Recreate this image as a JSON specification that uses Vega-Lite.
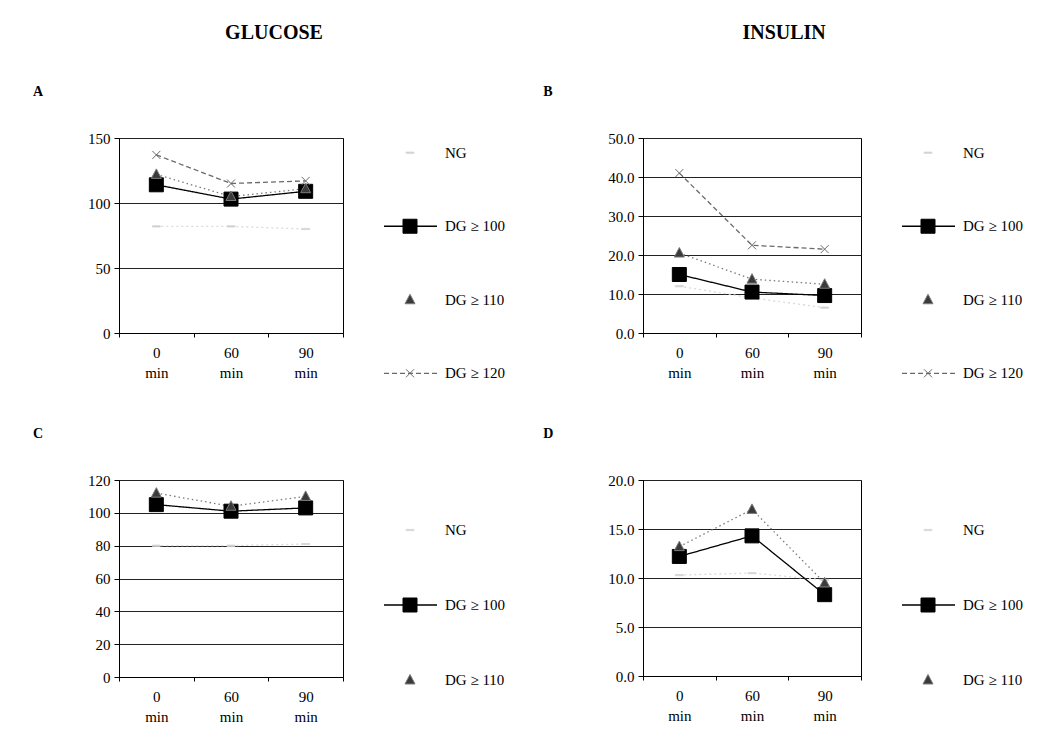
{
  "$schema": "https://vega.github.io/schema/vega-lite/v6.json",
  "background": "white",
  "padding": {"left": 33, "top": 22, "right": 5, "bottom": 5},
  "config": {
    "font": "Liberation Serif",
    "view": {"stroke": "black", "strokeWidth": 1},
    "axis": {"labelFont": "Liberation Serif", "labelFontSize": 15, "labelColor": "black", "domainColor": "black", "tickColor": "black", "gridColor": "#222222", "gridWidth": 1},
    "title": {"font": "Liberation Serif", "fontWeight": "bold", "color": "black"},
    "text": {"font": "Liberation Serif", "fontSize": 15, "color": "black"}
  },
  "spacing": 34,
  "hconcat": [
    {
      "title": {"text": "GLUCOSE", "fontSize": 20, "anchor": "middle", "offset": 42, "dx": 3},
      "spacing": 38,
      "vconcat": [
        {
          "title": {"text": "A", "fontSize": 14, "anchor": "start", "dx": -54, "offset": 32},
          "spacing": 35,
          "hconcat": [
            {
              "width": 224, "height": 195,
              "data": {"values": [
                {"time": "0", "series": "NG", "value": 82}, {"time": "60", "series": "NG", "value": 82}, {"time": "90", "series": "NG", "value": 80},
                {"time": "0", "series": "DG ≥ 100", "value": 114}, {"time": "60", "series": "DG ≥ 100", "value": 103}, {"time": "90", "series": "DG ≥ 100", "value": 109},
                {"time": "0", "series": "DG ≥ 110", "value": 122}, {"time": "60", "series": "DG ≥ 110", "value": 105}, {"time": "90", "series": "DG ≥ 110", "value": 111},
                {"time": "0", "series": "DG ≥ 120", "value": 137}, {"time": "60", "series": "DG ≥ 120", "value": 115}, {"time": "90", "series": "DG ≥ 120", "value": 117}
              ]},
              "encoding": {
                "x": {"field": "time", "type": "ordinal", "sort": ["0", "60", "90"], "bandPosition": 0.5,
                  "scale": {"type": "band", "paddingInner": 0, "paddingOuter": 0},
                  "axis": {"title": null, "labelAngle": 0, "tickBand": "extent", "labelExpr": "datum.label ? [datum.label, 'min'] : ''", "labelLineHeight": 20, "labelPadding": 8, "tickSize": 4, "labelBaseline": "top", "grid": false}},
                "y": {"field": "value", "type": "quantitative",
                  "scale": {"domain": [0, 150], "nice": false},
                  "axis": {"title": null, "values": [0, 50, 100, 150], "format": "d", "grid": true, "tickSize": 5, "labelPadding": 4}}
              },
              "layer": [
                {"mark": {"type": "line", "strokeWidth": 1.3},
                  "encoding": {
                    "stroke": {"field": "series", "type": "nominal", "legend": null, "scale": {"domain": ["NG", "DG ≥ 100", "DG ≥ 110", "DG ≥ 120"], "range": ["#dadada", "#000000", "#7a7a7a", "#6a6a6a"]}},
                    "strokeDash": {"field": "series", "type": "nominal", "legend": null, "scale": {"domain": ["NG", "DG ≥ 100", "DG ≥ 110", "DG ≥ 120"], "range": [[2, 3], [1, 0], [1.5, 3], [5, 3]]}}
                  }},
                {"mark": {"type": "point", "opacity": 1, "size": 100, "strokeWidth": 1},
                  "encoding": {
                    "shape": {"field": "series", "type": "nominal", "legend": null, "scale": {"domain": ["NG", "DG ≥ 100", "DG ≥ 110", "DG ≥ 120"], "range": ["M-0.8,-0.12H0.8V0.12H-0.8Z", "M-1.4,-1.4H1.4V1.4H-1.4Z", "M0,-1.1L1,0.8H-1Z", "M-0.8,-0.8L0.8,0.8M-0.8,0.8L0.8,-0.8"]}},
                    "fill": {"field": "series", "type": "nominal", "legend": null, "scale": {"domain": ["NG", "DG ≥ 100", "DG ≥ 110", "DG ≥ 120"], "range": ["#bdbdbd", "#000000", "#3a3a3a", "transparent"]}},
                    "stroke": {"field": "series", "type": "nominal", "legend": null, "scale": {"domain": ["NG", "DG ≥ 100", "DG ≥ 110", "DG ≥ 120"], "range": ["#dadada", "#000000", "#7a7a7a", "#6a6a6a"]}}
                  }}
              ]
            },
            {
              "width": 130, "height": 250,
              "view": {"stroke": null},
              "data": {"values": [{"series": "NG"}, {"series": "DG ≥ 100"}, {"series": "DG ≥ 110"}, {"series": "DG ≥ 120"}]},
              "encoding": {
                "y": {"field": "series", "type": "ordinal", "sort": ["NG", "DG ≥ 100", "DG ≥ 110", "DG ≥ 120"], "scale": {"type": "point", "padding": 0.2}, "axis": null}
              },
              "layer": [
                {"transform": [{"filter": "datum.series == 'DG ≥ 100' || datum.series == 'DG ≥ 120'"}],
                  "mark": {"type": "rule", "strokeWidth": 1.3},
                  "encoding": {
                    "x": {"datum": 0.5, "type": "quantitative", "scale": {"domain": [0, 13]}, "axis": null},
                    "x2": {"datum": 5.8},
                    "stroke": {"field": "series", "type": "nominal", "legend": null, "scale": {"domain": ["NG", "DG ≥ 100", "DG ≥ 110", "DG ≥ 120"], "range": ["#dadada", "#000000", "#7a7a7a", "#6a6a6a"]}},
                    "strokeDash": {"field": "series", "type": "nominal", "legend": null, "scale": {"domain": ["NG", "DG ≥ 100", "DG ≥ 110", "DG ≥ 120"], "range": [[2, 3], [1, 0], [1.5, 3], [5, 3]]}}
                  }},
                {"mark": {"type": "point", "opacity": 1, "size": 100, "strokeWidth": 1},
                  "encoding": {
                    "x": {"datum": 3.1, "type": "quantitative"},
                    "shape": {"field": "series", "type": "nominal", "legend": null, "scale": {"domain": ["NG", "DG ≥ 100", "DG ≥ 110", "DG ≥ 120"], "range": ["M-0.8,-0.12H0.8V0.12H-0.8Z", "M-1.4,-1.4H1.4V1.4H-1.4Z", "M0,-1.1L1,0.8H-1Z", "M-0.8,-0.8L0.8,0.8M-0.8,0.8L0.8,-0.8"]}},
                    "fill": {"field": "series", "type": "nominal", "legend": null, "scale": {"domain": ["NG", "DG ≥ 100", "DG ≥ 110", "DG ≥ 120"], "range": ["#bdbdbd", "#000000", "#3a3a3a", "transparent"]}},
                    "stroke": {"field": "series", "type": "nominal", "legend": null, "scale": {"domain": ["NG", "DG ≥ 100", "DG ≥ 110", "DG ≥ 120"], "range": ["#dadada", "#000000", "#7a7a7a", "#6a6a6a"]}}
                  }},
                {"mark": {"type": "text", "align": "left", "baseline": "middle"},
                  "encoding": {
                    "x": {"datum": 6.6, "type": "quantitative"},
                    "text": {"field": "series", "type": "nominal"}
                  }}
              ]
            }
          ]
        },
        {
          "title": {"text": "C", "fontSize": 14, "anchor": "start", "dx": -54, "offset": 32},
          "spacing": 35,
          "hconcat": [
            {
              "width": 224, "height": 197,
              "data": {"values": [
                {"time": "0", "series": "NG", "value": 80}, {"time": "60", "series": "NG", "value": 80}, {"time": "90", "series": "NG", "value": 81},
                {"time": "0", "series": "DG ≥ 100", "value": 105}, {"time": "60", "series": "DG ≥ 100", "value": 101}, {"time": "90", "series": "DG ≥ 100", "value": 103},
                {"time": "0", "series": "DG ≥ 110", "value": 112}, {"time": "60", "series": "DG ≥ 110", "value": 104}, {"time": "90", "series": "DG ≥ 110", "value": 110}
              ]},
              "encoding": {
                "x": {"field": "time", "type": "ordinal", "sort": ["0", "60", "90"], "bandPosition": 0.5,
                  "scale": {"type": "band", "paddingInner": 0, "paddingOuter": 0},
                  "axis": {"title": null, "labelAngle": 0, "tickBand": "extent", "labelExpr": "datum.label ? [datum.label, 'min'] : ''", "labelLineHeight": 20, "labelPadding": 8, "tickSize": 4, "labelBaseline": "top", "grid": false}},
                "y": {"field": "value", "type": "quantitative",
                  "scale": {"domain": [0, 120], "nice": false},
                  "axis": {"title": null, "values": [0, 20, 40, 60, 80, 100, 120], "format": "d", "grid": true, "tickSize": 5, "labelPadding": 4}}
              },
              "layer": [
                {"mark": {"type": "line", "strokeWidth": 1.3},
                  "encoding": {
                    "stroke": {"field": "series", "type": "nominal", "legend": null, "scale": {"domain": ["NG", "DG ≥ 100", "DG ≥ 110", "DG ≥ 120"], "range": ["#dadada", "#000000", "#7a7a7a", "#6a6a6a"]}},
                    "strokeDash": {"field": "series", "type": "nominal", "legend": null, "scale": {"domain": ["NG", "DG ≥ 100", "DG ≥ 110", "DG ≥ 120"], "range": [[2, 3], [1, 0], [1.5, 3], [5, 3]]}}
                  }},
                {"mark": {"type": "point", "opacity": 1, "size": 100, "strokeWidth": 1},
                  "encoding": {
                    "shape": {"field": "series", "type": "nominal", "legend": null, "scale": {"domain": ["NG", "DG ≥ 100", "DG ≥ 110", "DG ≥ 120"], "range": ["M-0.8,-0.12H0.8V0.12H-0.8Z", "M-1.4,-1.4H1.4V1.4H-1.4Z", "M0,-1.1L1,0.8H-1Z", "M-0.8,-0.8L0.8,0.8M-0.8,0.8L0.8,-0.8"]}},
                    "fill": {"field": "series", "type": "nominal", "legend": null, "scale": {"domain": ["NG", "DG ≥ 100", "DG ≥ 110", "DG ≥ 120"], "range": ["#bdbdbd", "#000000", "#3a3a3a", "transparent"]}},
                    "stroke": {"field": "series", "type": "nominal", "legend": null, "scale": {"domain": ["NG", "DG ≥ 100", "DG ≥ 110", "DG ≥ 120"], "range": ["#dadada", "#000000", "#7a7a7a", "#6a6a6a"]}}
                  }}
              ]
            },
            {
              "width": 130, "height": 250,
              "view": {"stroke": null},
              "data": {"values": [{"series": "NG"}, {"series": "DG ≥ 100"}, {"series": "DG ≥ 110"}]},
              "encoding": {
                "y": {"field": "series", "type": "ordinal", "sort": ["NG", "DG ≥ 100", "DG ≥ 110"], "scale": {"type": "point", "padding": 0.667}, "axis": null}
              },
              "layer": [
                {"transform": [{"filter": "datum.series == 'DG ≥ 100'"}],
                  "mark": {"type": "rule", "strokeWidth": 1.3},
                  "encoding": {
                    "x": {"datum": 0.5, "type": "quantitative", "scale": {"domain": [0, 13]}, "axis": null},
                    "x2": {"datum": 5.8},
                    "stroke": {"field": "series", "type": "nominal", "legend": null, "scale": {"domain": ["NG", "DG ≥ 100", "DG ≥ 110", "DG ≥ 120"], "range": ["#dadada", "#000000", "#7a7a7a", "#6a6a6a"]}},
                    "strokeDash": {"field": "series", "type": "nominal", "legend": null, "scale": {"domain": ["NG", "DG ≥ 100", "DG ≥ 110", "DG ≥ 120"], "range": [[2, 3], [1, 0], [1.5, 3], [5, 3]]}}
                  }},
                {"mark": {"type": "point", "opacity": 1, "size": 100, "strokeWidth": 1},
                  "encoding": {
                    "x": {"datum": 3.1, "type": "quantitative"},
                    "shape": {"field": "series", "type": "nominal", "legend": null, "scale": {"domain": ["NG", "DG ≥ 100", "DG ≥ 110", "DG ≥ 120"], "range": ["M-0.8,-0.12H0.8V0.12H-0.8Z", "M-1.4,-1.4H1.4V1.4H-1.4Z", "M0,-1.1L1,0.8H-1Z", "M-0.8,-0.8L0.8,0.8M-0.8,0.8L0.8,-0.8"]}},
                    "fill": {"field": "series", "type": "nominal", "legend": null, "scale": {"domain": ["NG", "DG ≥ 100", "DG ≥ 110", "DG ≥ 120"], "range": ["#bdbdbd", "#000000", "#3a3a3a", "transparent"]}},
                    "stroke": {"field": "series", "type": "nominal", "legend": null, "scale": {"domain": ["NG", "DG ≥ 100", "DG ≥ 110", "DG ≥ 120"], "range": ["#dadada", "#000000", "#7a7a7a", "#6a6a6a"]}}
                  }},
                {"mark": {"type": "text", "align": "left", "baseline": "middle"},
                  "encoding": {
                    "x": {"datum": 6.6, "type": "quantitative"},
                    "text": {"field": "series", "type": "nominal"}
                  }}
              ]
            }
          ]
        }
      ]
    },
    {
      "title": {"text": "INSULIN", "fontSize": 20, "anchor": "middle", "offset": 42, "dx": -1},
      "spacing": 38,
      "vconcat": [
        {
          "title": {"text": "B", "fontSize": 14, "anchor": "start", "dx": -64, "offset": 32},
          "spacing": 35,
          "hconcat": [
            {
              "width": 218, "height": 195,
              "data": {"values": [
                {"time": "0", "series": "NG", "value": 12}, {"time": "60", "series": "NG", "value": 9}, {"time": "90", "series": "NG", "value": 6.5},
                {"time": "0", "series": "DG ≥ 100", "value": 15}, {"time": "60", "series": "DG ≥ 100", "value": 10.5}, {"time": "90", "series": "DG ≥ 100", "value": 9.6},
                {"time": "0", "series": "DG ≥ 110", "value": 20.5}, {"time": "60", "series": "DG ≥ 110", "value": 13.8}, {"time": "90", "series": "DG ≥ 110", "value": 12.5},
                {"time": "0", "series": "DG ≥ 120", "value": 41}, {"time": "60", "series": "DG ≥ 120", "value": 22.5}, {"time": "90", "series": "DG ≥ 120", "value": 21.5}
              ]},
              "encoding": {
                "x": {"field": "time", "type": "ordinal", "sort": ["0", "60", "90"], "bandPosition": 0.5,
                  "scale": {"type": "band", "paddingInner": 0, "paddingOuter": 0},
                  "axis": {"title": null, "labelAngle": 0, "tickBand": "extent", "labelExpr": "datum.label ? [datum.label, 'min'] : ''", "labelLineHeight": 20, "labelPadding": 8, "tickSize": 4, "labelBaseline": "top", "grid": false}},
                "y": {"field": "value", "type": "quantitative",
                  "scale": {"domain": [0, 50], "nice": false},
                  "axis": {"title": null, "values": [0, 10, 20, 30, 40, 50], "format": ".1f", "grid": true, "tickSize": 5, "labelPadding": 4}}
              },
              "layer": [
                {"mark": {"type": "line", "strokeWidth": 1.3},
                  "encoding": {
                    "stroke": {"field": "series", "type": "nominal", "legend": null, "scale": {"domain": ["NG", "DG ≥ 100", "DG ≥ 110", "DG ≥ 120"], "range": ["#dadada", "#000000", "#7a7a7a", "#6a6a6a"]}},
                    "strokeDash": {"field": "series", "type": "nominal", "legend": null, "scale": {"domain": ["NG", "DG ≥ 100", "DG ≥ 110", "DG ≥ 120"], "range": [[2, 3], [1, 0], [1.5, 3], [5, 3]]}}
                  }},
                {"mark": {"type": "point", "opacity": 1, "size": 100, "strokeWidth": 1},
                  "encoding": {
                    "shape": {"field": "series", "type": "nominal", "legend": null, "scale": {"domain": ["NG", "DG ≥ 100", "DG ≥ 110", "DG ≥ 120"], "range": ["M-0.8,-0.12H0.8V0.12H-0.8Z", "M-1.4,-1.4H1.4V1.4H-1.4Z", "M0,-1.1L1,0.8H-1Z", "M-0.8,-0.8L0.8,0.8M-0.8,0.8L0.8,-0.8"]}},
                    "fill": {"field": "series", "type": "nominal", "legend": null, "scale": {"domain": ["NG", "DG ≥ 100", "DG ≥ 110", "DG ≥ 120"], "range": ["#bdbdbd", "#000000", "#3a3a3a", "transparent"]}},
                    "stroke": {"field": "series", "type": "nominal", "legend": null, "scale": {"domain": ["NG", "DG ≥ 100", "DG ≥ 110", "DG ≥ 120"], "range": ["#dadada", "#000000", "#7a7a7a", "#6a6a6a"]}}
                  }}
              ]
            },
            {
              "width": 130, "height": 250,
              "view": {"stroke": null},
              "data": {"values": [{"series": "NG"}, {"series": "DG ≥ 100"}, {"series": "DG ≥ 110"}, {"series": "DG ≥ 120"}]},
              "encoding": {
                "y": {"field": "series", "type": "ordinal", "sort": ["NG", "DG ≥ 100", "DG ≥ 110", "DG ≥ 120"], "scale": {"type": "point", "padding": 0.2}, "axis": null}
              },
              "layer": [
                {"transform": [{"filter": "datum.series == 'DG ≥ 100' || datum.series == 'DG ≥ 120'"}],
                  "mark": {"type": "rule", "strokeWidth": 1.3},
                  "encoding": {
                    "x": {"datum": 0.5, "type": "quantitative", "scale": {"domain": [0, 13]}, "axis": null},
                    "x2": {"datum": 5.8},
                    "stroke": {"field": "series", "type": "nominal", "legend": null, "scale": {"domain": ["NG", "DG ≥ 100", "DG ≥ 110", "DG ≥ 120"], "range": ["#dadada", "#000000", "#7a7a7a", "#6a6a6a"]}},
                    "strokeDash": {"field": "series", "type": "nominal", "legend": null, "scale": {"domain": ["NG", "DG ≥ 100", "DG ≥ 110", "DG ≥ 120"], "range": [[2, 3], [1, 0], [1.5, 3], [5, 3]]}}
                  }},
                {"mark": {"type": "point", "opacity": 1, "size": 100, "strokeWidth": 1},
                  "encoding": {
                    "x": {"datum": 3.1, "type": "quantitative"},
                    "shape": {"field": "series", "type": "nominal", "legend": null, "scale": {"domain": ["NG", "DG ≥ 100", "DG ≥ 110", "DG ≥ 120"], "range": ["M-0.8,-0.12H0.8V0.12H-0.8Z", "M-1.4,-1.4H1.4V1.4H-1.4Z", "M0,-1.1L1,0.8H-1Z", "M-0.8,-0.8L0.8,0.8M-0.8,0.8L0.8,-0.8"]}},
                    "fill": {"field": "series", "type": "nominal", "legend": null, "scale": {"domain": ["NG", "DG ≥ 100", "DG ≥ 110", "DG ≥ 120"], "range": ["#bdbdbd", "#000000", "#3a3a3a", "transparent"]}},
                    "stroke": {"field": "series", "type": "nominal", "legend": null, "scale": {"domain": ["NG", "DG ≥ 100", "DG ≥ 110", "DG ≥ 120"], "range": ["#dadada", "#000000", "#7a7a7a", "#6a6a6a"]}}
                  }},
                {"mark": {"type": "text", "align": "left", "baseline": "middle"},
                  "encoding": {
                    "x": {"datum": 6.6, "type": "quantitative"},
                    "text": {"field": "series", "type": "nominal"}
                  }}
              ]
            }
          ]
        },
        {
          "title": {"text": "D", "fontSize": 14, "anchor": "start", "dx": -64, "offset": 32},
          "spacing": 35,
          "hconcat": [
            {
              "width": 218, "height": 196,
              "data": {"values": [
                {"time": "0", "series": "NG", "value": 10.3}, {"time": "60", "series": "NG", "value": 10.5}, {"time": "90", "series": "NG", "value": 9.8},
                {"time": "0", "series": "DG ≥ 100", "value": 12.2}, {"time": "60", "series": "DG ≥ 100", "value": 14.3}, {"time": "90", "series": "DG ≥ 100", "value": 8.3},
                {"time": "0", "series": "DG ≥ 110", "value": 13.2}, {"time": "60", "series": "DG ≥ 110", "value": 17}, {"time": "90", "series": "DG ≥ 110", "value": 9.5}
              ]},
              "encoding": {
                "x": {"field": "time", "type": "ordinal", "sort": ["0", "60", "90"], "bandPosition": 0.5,
                  "scale": {"type": "band", "paddingInner": 0, "paddingOuter": 0},
                  "axis": {"title": null, "labelAngle": 0, "tickBand": "extent", "labelExpr": "datum.label ? [datum.label, 'min'] : ''", "labelLineHeight": 20, "labelPadding": 8, "tickSize": 4, "labelBaseline": "top", "grid": false}},
                "y": {"field": "value", "type": "quantitative",
                  "scale": {"domain": [0, 20], "nice": false},
                  "axis": {"title": null, "values": [0, 5, 10, 15, 20], "format": ".1f", "grid": true, "tickSize": 5, "labelPadding": 4}}
              },
              "layer": [
                {"mark": {"type": "line", "strokeWidth": 1.3},
                  "encoding": {
                    "stroke": {"field": "series", "type": "nominal", "legend": null, "scale": {"domain": ["NG", "DG ≥ 100", "DG ≥ 110", "DG ≥ 120"], "range": ["#dadada", "#000000", "#7a7a7a", "#6a6a6a"]}},
                    "strokeDash": {"field": "series", "type": "nominal", "legend": null, "scale": {"domain": ["NG", "DG ≥ 100", "DG ≥ 110", "DG ≥ 120"], "range": [[2, 3], [1, 0], [1.5, 3], [5, 3]]}}
                  }},
                {"mark": {"type": "point", "opacity": 1, "size": 100, "strokeWidth": 1},
                  "encoding": {
                    "shape": {"field": "series", "type": "nominal", "legend": null, "scale": {"domain": ["NG", "DG ≥ 100", "DG ≥ 110", "DG ≥ 120"], "range": ["M-0.8,-0.12H0.8V0.12H-0.8Z", "M-1.4,-1.4H1.4V1.4H-1.4Z", "M0,-1.1L1,0.8H-1Z", "M-0.8,-0.8L0.8,0.8M-0.8,0.8L0.8,-0.8"]}},
                    "fill": {"field": "series", "type": "nominal", "legend": null, "scale": {"domain": ["NG", "DG ≥ 100", "DG ≥ 110", "DG ≥ 120"], "range": ["#bdbdbd", "#000000", "#3a3a3a", "transparent"]}},
                    "stroke": {"field": "series", "type": "nominal", "legend": null, "scale": {"domain": ["NG", "DG ≥ 100", "DG ≥ 110", "DG ≥ 120"], "range": ["#dadada", "#000000", "#7a7a7a", "#6a6a6a"]}}
                  }}
              ]
            },
            {
              "width": 130, "height": 250,
              "view": {"stroke": null},
              "data": {"values": [{"series": "NG"}, {"series": "DG ≥ 100"}, {"series": "DG ≥ 110"}]},
              "encoding": {
                "y": {"field": "series", "type": "ordinal", "sort": ["NG", "DG ≥ 100", "DG ≥ 110"], "scale": {"type": "point", "padding": 0.667}, "axis": null}
              },
              "layer": [
                {"transform": [{"filter": "datum.series == 'DG ≥ 100'"}],
                  "mark": {"type": "rule", "strokeWidth": 1.3},
                  "encoding": {
                    "x": {"datum": 0.5, "type": "quantitative", "scale": {"domain": [0, 13]}, "axis": null},
                    "x2": {"datum": 5.8},
                    "stroke": {"field": "series", "type": "nominal", "legend": null, "scale": {"domain": ["NG", "DG ≥ 100", "DG ≥ 110", "DG ≥ 120"], "range": ["#dadada", "#000000", "#7a7a7a", "#6a6a6a"]}},
                    "strokeDash": {"field": "series", "type": "nominal", "legend": null, "scale": {"domain": ["NG", "DG ≥ 100", "DG ≥ 110", "DG ≥ 120"], "range": [[2, 3], [1, 0], [1.5, 3], [5, 3]]}}
                  }},
                {"mark": {"type": "point", "opacity": 1, "size": 100, "strokeWidth": 1},
                  "encoding": {
                    "x": {"datum": 3.1, "type": "quantitative"},
                    "shape": {"field": "series", "type": "nominal", "legend": null, "scale": {"domain": ["NG", "DG ≥ 100", "DG ≥ 110", "DG ≥ 120"], "range": ["M-0.8,-0.12H0.8V0.12H-0.8Z", "M-1.4,-1.4H1.4V1.4H-1.4Z", "M0,-1.1L1,0.8H-1Z", "M-0.8,-0.8L0.8,0.8M-0.8,0.8L0.8,-0.8"]}},
                    "fill": {"field": "series", "type": "nominal", "legend": null, "scale": {"domain": ["NG", "DG ≥ 100", "DG ≥ 110", "DG ≥ 120"], "range": ["#bdbdbd", "#000000", "#3a3a3a", "transparent"]}},
                    "stroke": {"field": "series", "type": "nominal", "legend": null, "scale": {"domain": ["NG", "DG ≥ 100", "DG ≥ 110", "DG ≥ 120"], "range": ["#dadada", "#000000", "#7a7a7a", "#6a6a6a"]}}
                  }},
                {"mark": {"type": "text", "align": "left", "baseline": "middle"},
                  "encoding": {
                    "x": {"datum": 6.6, "type": "quantitative"},
                    "text": {"field": "series", "type": "nominal"}
                  }}
              ]
            }
          ]
        }
      ]
    }
  ]
}
